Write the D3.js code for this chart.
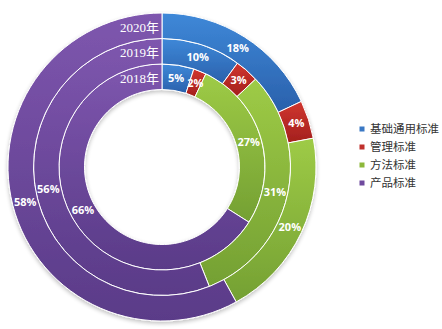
<!DOCTYPE html>
<html><head><meta charset="utf-8">
<script src="https://cdn.jsdelivr.net/npm/d3@7"></script>
<style>body{margin:0;background:#fff;}svg{display:block;}</style>
</head><body>
<script>
const categories = ["基础通用标准","管理标准","方法标准","产品标准"];
const years = ["2018年","2019年","2020年"];
const values2018 = [5,2,27,66];
const values2019 = [10,3,31,56];
const values2020 = [18,4,20,58];
const seriesValues = [values2018, values2019, values2020];
const colorTop = ["#3e88d8","#d0352f","#9ecb46","#7e56ae"];
const colorBot = ["#2a60ab","#a3201d","#74a033","#5a3b88"];
const legendColor = ["#3a78c4","#c0302c","#8db83a","#6f4a9e"];

const W=442,H=329, cx=162, cy=167;
const radii=[77.5,103,128.5,154];
const svg=d3.select("body").append("svg").attr("width",W).attr("height",H);
const defs=svg.append("defs");
categories.forEach((c,i)=>{
  const g=defs.append("linearGradient").attr("id","g"+i)
    .attr("x1",0).attr("y1",0).attr("x2",0).attr("y2",1);
  g.append("stop").attr("offset","0%").attr("stop-color",colorTop[i]);
  g.append("stop").attr("offset","100%").attr("stop-color",colorBot[i]);
});
const f=defs.append("filter").attr("id","sh").attr("x","-10%").attr("y","-10%").attr("width","120%").attr("height","120%");
f.append("feGaussianBlur").attr("in","SourceAlpha").attr("stdDeviation",2);
f.append("feOffset").attr("dy",2).attr("result","b");
f.append("feComponentTransfer").append("feFuncA").attr("type","linear").attr("slope",0.25);
const m=f.append("feMerge");m.append("feMergeNode");m.append("feMergeNode").attr("in","SourceGraphic");

const pie=d3.pie().sort(null).value(d=>d);
const g=svg.append("g").attr("transform",`translate(${cx},${cy})`).attr("filter","url(#sh)");
const lg=svg.append("g").attr("transform",`translate(${cx},${cy})`);
seriesValues.forEach((vals,ri)=>{
  const arc=d3.arc().innerRadius(radii[ri]).outerRadius(radii[ri+1]);
  const arcs=pie(vals);
  g.selectAll(null).data(arcs).enter().append("path")
    .attr("d",arc).attr("fill",(d,i)=>`url(#g${i})`)
    .attr("stroke","#fff").attr("stroke-width",1);
  lg.selectAll(null).data(arcs).enter().append("text")
    .attr("transform",d=>`translate(${arc.centroid(d)})`)
    .attr("text-anchor","middle").attr("dy","0.35em")
    .attr("font-family","Open Sans, DejaVu Sans, sans-serif").attr("font-weight","bold")
    .attr("font-size",11).attr("fill","#fff")
    .text(d=>d.data+"%");
  lg.append("text").attr("x",-3).attr("y",-(radii[ri]+radii[ri+1])/2+1.5)
    .attr("text-anchor","end").attr("dy","0.36em")
    .attr("font-family","Liberation Serif, 'Noto Sans CJK SC', serif")
    .attr("font-size",13).attr("fill","#fff").text(years[ri]);
});
const leg=svg.append("g").attr("transform","translate(362,129)");
categories.forEach((c,i)=>{
  const row=leg.append("g").attr("transform",`translate(0,${i*18})`);
  row.append("rect").attr("x",-2.5).attr("y",-2.5).attr("width",5).attr("height",5).attr("fill",legendColor[i]);
  row.append("text").attr("x",8).attr("dy","0.36em").attr("font-family","'Noto Sans CJK SC', sans-serif")
    .attr("font-size",11.5).attr("fill","#333").text(c);
});
</script>
</body></html>
